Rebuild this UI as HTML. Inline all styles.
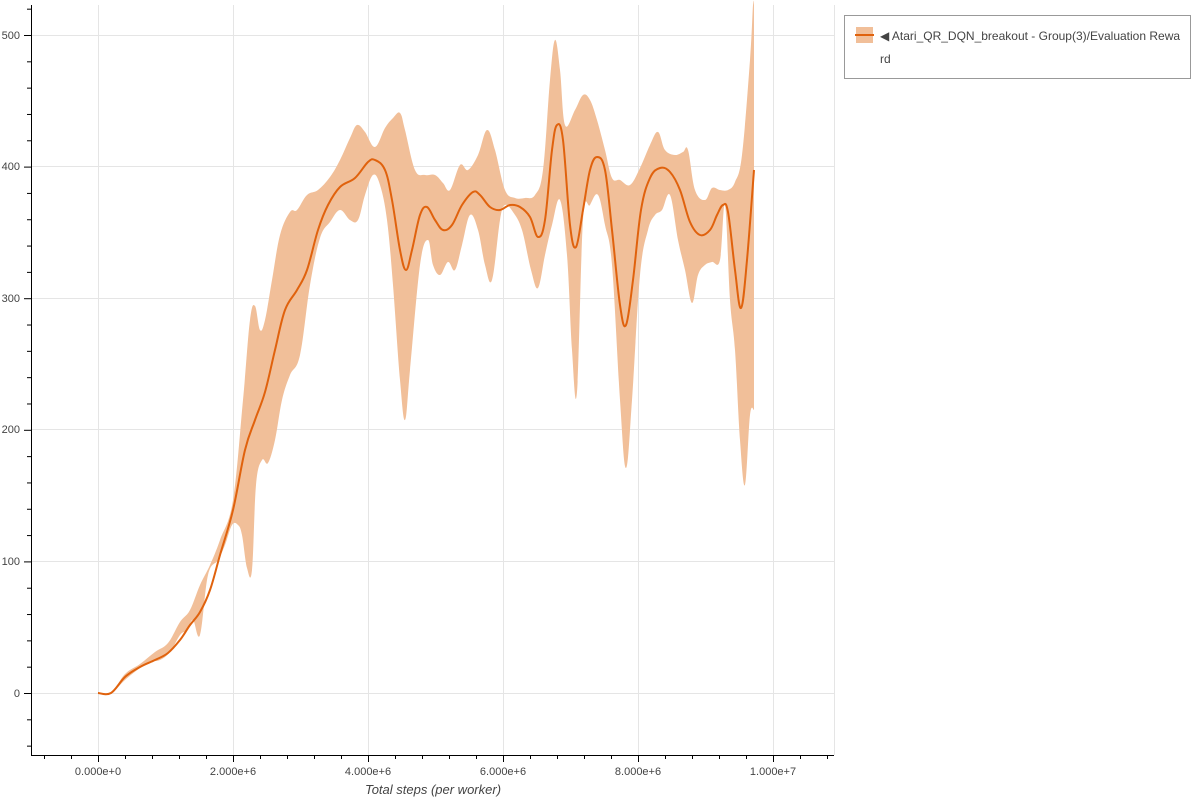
<!DOCTYPE html>
<html><head><meta charset="utf-8"><style>
html,body{margin:0;padding:0;background:#fff;width:1200px;height:800px;overflow:hidden}
text{font-family:"Liberation Sans",sans-serif}
</style></head><body>
<svg width="1200" height="800" viewBox="0 0 1200 800" xmlns="http://www.w3.org/2000/svg">
<g stroke="#e5e5e5" stroke-width="1">
<line x1="98.5" y1="5" x2="98.5" y2="755"/><line x1="233.5" y1="5" x2="233.5" y2="755"/><line x1="368.5" y1="5" x2="368.5" y2="755"/><line x1="503.5" y1="5" x2="503.5" y2="755"/><line x1="638.5" y1="5" x2="638.5" y2="755"/><line x1="773.5" y1="5" x2="773.5" y2="755"/>
<line x1="31" y1="35.5" x2="834" y2="35.5"/><line x1="31" y1="166.5" x2="834" y2="166.5"/><line x1="31" y1="298.5" x2="834" y2="298.5"/><line x1="31" y1="429.5" x2="834" y2="429.5"/><line x1="31" y1="561.5" x2="834" y2="561.5"/><line x1="31" y1="693.5" x2="834" y2="693.5"/>
<line x1="834.5" y1="5" x2="834.5" y2="755"/>
</g>
<path id="band" fill="#f1bf99" d=""/>
<path id="mean" fill="none" stroke="#e0620d" stroke-width="2" d=""/>
<g stroke="#000" stroke-width="1">
<line x1="31.5" y1="5" x2="31.5" y2="755"/><line x1="31" y1="755.5" x2="834" y2="755.5"/>
</g>
<g stroke="#000" stroke-width="1" id="yt"></g>
<g font-size="11" fill="#444" text-anchor="end">
<text x="20" y="39">500</text><text x="20" y="170">400</text><text x="20" y="302">300</text><text x="20" y="433">200</text><text x="20" y="565">100</text><text x="20" y="697">0</text>
</g>
<g font-size="11" fill="#444" text-anchor="middle">
<text x="98" y="775">0.000e+0</text><text x="233" y="775">2.000e+6</text><text x="368" y="775">4.000e+6</text><text x="503" y="775">6.000e+6</text><text x="638" y="775">8.000e+6</text><text x="773" y="775">1.000e+7</text>
</g>
<text x="433" y="794" font-size="13" font-style="italic" fill="#444" text-anchor="middle">Total steps (per worker)</text>
<rect x="844.5" y="15.5" width="346" height="63" fill="#fff" stroke="#999"/>
<rect x="856" y="27" width="17" height="16" fill="#f1bf99"/>
<line x1="855" y1="35" x2="874" y2="35" stroke="#e0620d" stroke-width="2"/>
<text x="880" y="40" font-size="12" fill="#444">◀ Atari_QR_DQN_breakout - Group(3)/Evaluation Rewa</text>
<text x="880" y="63" font-size="12" fill="#444">rd</text>
</svg>
<script>
function P(s){return s.trim().split(/\s+/).map(function(p){return p.split(',').map(Number);});}
function smooth(pts,closed){
var d='M'+pts[0][0]+','+pts[0][1];
for(var i=0;i<pts.length-1;i++){
var p0=pts[i-1]||pts[i],p1=pts[i],p2=pts[i+1],p3=pts[i+2]||p2;
var t=0.18;
var c1=[p1[0]+(p2[0]-p0[0])*t,p1[1]+(p2[1]-p0[1])*t];
var c2=[p2[0]-(p3[0]-p1[0])*t,p2[1]-(p3[1]-p1[1])*t];
d+=' C'+c1[0].toFixed(1)+','+c1[1].toFixed(1)+' '+c2[0].toFixed(1)+','+c2[1].toFixed(1)+' '+p2[0]+','+p2[1];}
return d+(closed?' Z':'');}
var up=P("98,693 111,693 125,674 140,664 155,652 168,643 180,622 190,610 200,585 210,565 220,540 233,500 243,400 250,320 255,306 260,330 265,320 272,280 280,235 290,212 297,210 307,195 318,190 330,177 340,160 350,138 357,125 365,132 375,147 385,128 393,118 400,113 405,130 415,170 425,175 435,175 443,183 450,190 460,165 468,170 478,155 487,130 495,150 505,190 515,198 525,198 535,195 543,170 550,80 555,40 560,70 565,125 575,110 583,95 590,100 597,120 605,150 612,178 620,180 630,185 640,168 650,145 658,132 665,150 675,155 683,152 688,150 695,190 705,200 712,188 720,190 728,190 735,182 742,155 750,60 753,5 754,5");
var lo=P("754,410 750,415 745,485 740,440 735,350 730,300 725,205 720,260 712,262 705,265 698,275 692,303 685,270 678,240 670,195 662,210 655,215 648,230 640,275 632,400 626,468 620,400 612,265 605,225 598,195 590,205 583,220 577,392 572,350 567,255 560,200 552,225 545,255 538,288 531,270 522,230 513,212 505,205 500,220 492,280 485,265 478,230 470,215 462,245 455,270 448,262 440,275 433,265 428,240 420,265 410,370 405,420 400,380 393,285 387,220 380,185 373,175 365,195 358,220 350,220 340,210 330,222 320,238 310,285 300,355 290,375 282,400 275,440 268,463 262,460 256,485 252,570 247,568 242,535 238,525 232,525 225,545 218,560 208,575 200,635 193,620 187,630 180,635 170,652 160,660 150,662 140,668 125,680 111,693 98,693");
var mn=P("98,693 111,693 125,677 140,667 155,660 168,653 180,640 190,625 200,612 210,590 220,555 233,510 245,450 255,420 265,392 275,350 285,310 297,290 307,270 318,230 328,205 340,187 355,178 368,162 375,160 385,170 392,200 400,250 406,270 412,250 420,215 427,207 435,220 443,230 452,225 462,205 473,192 480,195 490,207 500,210 510,205 520,207 530,217 538,237 545,220 552,150 557,125 563,140 570,225 576,247 583,210 590,170 597,157 605,170 612,230 620,305 626,325 633,280 641,210 650,178 660,168 670,172 680,190 690,222 700,235 710,230 717,215 723,205 728,212 735,270 741,308 747,260 754,170");
document.getElementById('band').setAttribute('d',smooth(up,false)+' L'+smooth(lo,false).slice(1)+' Z');
document.getElementById('mean').setAttribute('d',smooth(mn,false));
var g=document.getElementById('yt'),s='';
for(var i=-2;i<=27;i++){var y=693-i*26.32;if(y<5)break;var L=(i%5==0)?7:4;s+='<line x1="'+(31-L)+'" y1="'+(y+0.5)+'" x2="31" y2="'+(y+0.5)+'"/>';}
for(var j=-5;j<=30;j++){var x=98+j*27;if(x<32||x>834)continue;var L=(j%5==0)?7:4;s+='<line x1="'+(x+0.5)+'" y1="755" x2="'+(x+0.5)+'" y2="'+(755+L)+'"/>';}
g.innerHTML=s;
</script>
</body></html>
